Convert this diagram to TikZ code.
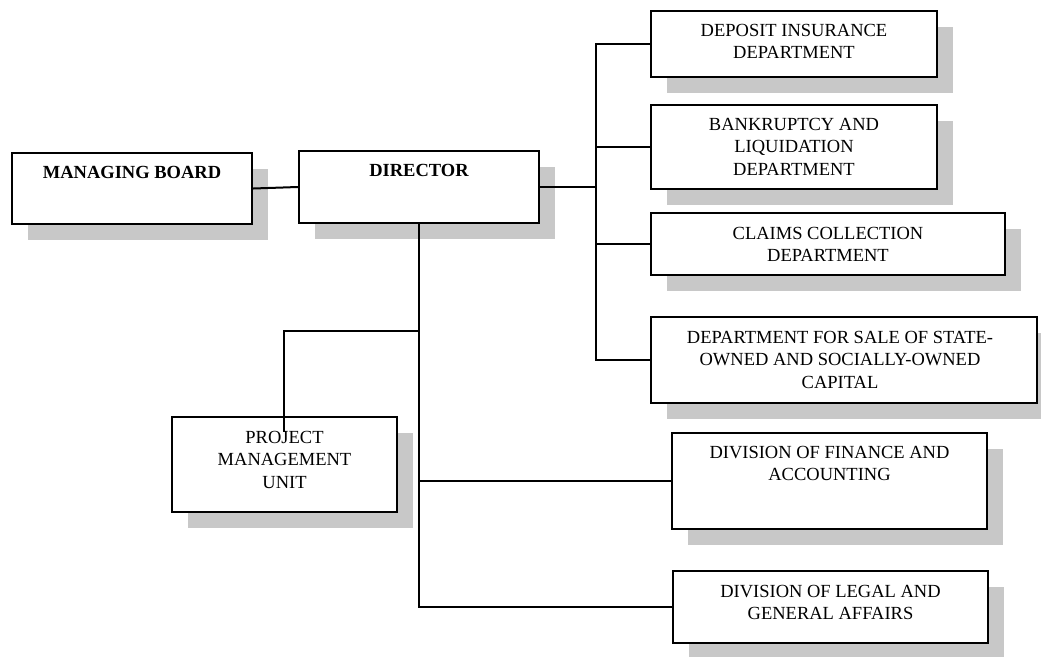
\documentclass[tikz,border=0pt]{standalone}
\usepackage{fontspec}
\setmainfont{Liberation Serif}
\usetikzlibrary{shadows,calc}
\definecolor{shgray}{RGB}{200,200,200}
\begin{document}
\begin{tikzpicture}[x=1pt,y=-1pt,
  orgbox/.style={draw=black, line width=2.4pt, fill=white, inner sep=0pt,
    minimum width=#1, drop shadow={shadow xshift=16pt, shadow yshift=-16pt, fill=shgray, opacity=1, draw=none}},
  txt/.style={anchor=north, inner sep=0pt, align=center,
    font=\fontsize{18.5}{22.5}\selectfont},
  btxt/.style={txt, font=\fontsize{18.5}{22.5}\selectfont\bfseries},
  conn/.style={draw=black, line width=2pt}]
\useasboundingbox (0,0) rectangle (1041,656);
% boxes
\node[orgbox=240pt, minimum height=71pt] (mb) at (132,188.5) {};
\node[orgbox=240pt, minimum height=72pt] (dir) at (419,187) {};
\node[orgbox=286pt, minimum height=66pt] (di) at (794,44) {};
\node[orgbox=286pt, minimum height=84pt] (bk) at (794,147) {};
\node[orgbox=354pt, minimum height=62pt] (cc) at (828,244) {};
\node[orgbox=386pt, minimum height=86pt] (ds) at (844,360) {};
\node[orgbox=225pt, minimum height=95pt] (pmu) at (284.5,464.5) {};
\node[orgbox=315pt, minimum height=96pt] (fin) at (829.5,481) {};
\node[orgbox=315pt, minimum height=72pt] (leg) at (830.5,607) {};
% texts
\node[btxt] (tmb) at ($(mb.north)+(0,14)$) {MANAGING BOARD};
\node[btxt] (tdir) at ($(dir.north)+(0,14)$) {DIRECTOR};
\node[txt] (tdi) at ($(di.north)+(0,14)$) {DEPOSIT INSURANCE\\DEPARTMENT};
\node[txt] (tbk) at ($(bk.north)+(0,14)$) {BANKRUPTCY AND\\LIQUIDATION\\DEPARTMENT};
\node[txt] (tcc) at ($(cc.north)+(0,15)$) {CLAIMS COLLECTION\\DEPARTMENT};
\node[txt] (tds) at ($(ds.north)+(-4,15)$) {DEPARTMENT FOR SALE OF STATE-\\OWNED AND SOCIALLY-OWNED\\CAPITAL};
\node[txt] (tpmu) at ($(pmu.north)+(0,15)$) {PROJECT\\MANAGEMENT\\UNIT};
\node[txt] (tfin) at ($(fin.north)+(0,14)$) {DIVISION OF FINANCE AND\\ACCOUNTING};
\node[txt] (tleg) at ($(leg.north)+(0,15)$) {DIVISION OF LEGAL AND\\GENERAL AFFAIRS};
% connector points
\coordinate (bus) at (596,187);
\coordinate (pmuturn) at ($(dir.south |- 0,331)$);
\coordinate (pmuend) at (284,432);
% connectors
\draw[conn] (mb.east) -- (dir.west);
\draw[conn] (dir.east) -- (bus);
\draw[conn] (di.west) -| (bus);
\draw[conn] (bk.west) -| (bus);
\draw[conn] (cc.west) -| (bus);
\draw[conn] (ds.west) -| (bus);
\draw[conn] (dir.south) |- (leg.west);
\draw[conn] (dir.south) |- (fin.west);
\draw[conn] (pmuturn) -| (pmuend);
\end{tikzpicture}
\end{document}
